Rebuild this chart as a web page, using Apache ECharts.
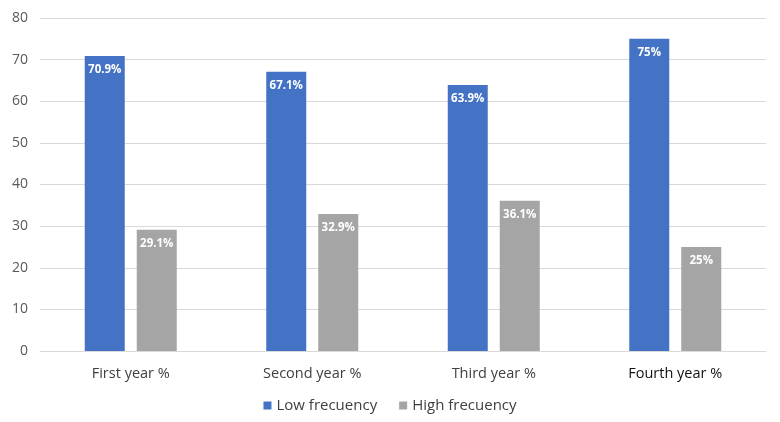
<!DOCTYPE html>
<html><head><meta charset="utf-8">
<script src="https://cdn.jsdelivr.net/npm/echarts@6/dist/echarts.min.js"></script>
<style>html,body{margin:0;padding:0;background:#fff}#c{width:780px;height:422px}</style>
</head><body><div id="c"></div>
<script>
const categories = ['First year %', 'Second year %', 'Third year %', 'Fourth year %'];
const lowFreq = [70.9, 67.1, 63.9, 75];
const highFreq = [29.1, 32.9, 36.1, 25];
const lowLabels = ['70.9%', '67.1%', '63.9%', '75%'];
const highLabels = ['29.1%', '32.9%', '36.1%', '25%'];
const yTicks = [0, 10, 20, 30, 40, 50, 60, 70, 80];

const chart = echarts.init(document.getElementById('c'), null, {renderer: 'canvas'});
const font = '"Open Sans", "Noto Sans", sans-serif';
chart.setOption({
  animation: false,
  textStyle: {fontFamily: font},
  grid: {left: 40, right: 14, top: 18, bottom: 71},
  legend: {
    data: ['Low frecuency', 'High frecuency'],
    bottom: 4, left: 'center',
    itemWidth: 8, itemHeight: 8, itemGap: 22, icon: 'rect',
    textStyle: {color: '#404040', fontSize: 15, fontFamily: font}
  },
  xAxis: {
    type: 'category', data: categories,
    axisLine: {show: true, lineStyle: {color: '#d9d9d9'}},
    axisTick: {show: false},
    axisLabel: {color: function (v) { return v === 'Fourth year %' ? '#111' : '#404040'; }, fontSize: 14.5, margin: 15, fontFamily: font}
  },
  yAxis: {
    type: 'value', min: yTicks[0], max: yTicks[yTicks.length - 1], interval: 10,
    axisLine: {show: false}, axisTick: {show: false},
    axisLabel: {color: '#595959', fontSize: 14, margin: 12, fontFamily: font},
    splitLine: {lineStyle: {color: '#d9d9d9'}}
  },
  series: [
    {name: 'Low frecuency', type: 'bar', data: lowFreq, barWidth: 40, barGap: '30%',
     itemStyle: {color: '#4472C4'},
     label: {show: true, position: 'insideTop', distance: 8, color: '#fff', fontWeight: 'bold', fontSize: 11.5,
       formatter: p => lowLabels[p.dataIndex]}},
    {name: 'High frecuency', type: 'bar', data: highFreq, barWidth: 40,
     itemStyle: {color: '#A5A5A5'},
     label: {show: true, position: 'insideTop', distance: 8, color: '#fff', fontWeight: 'bold', fontSize: 11.5,
       formatter: p => highLabels[p.dataIndex]}}
  ]
});
</script></body></html>
